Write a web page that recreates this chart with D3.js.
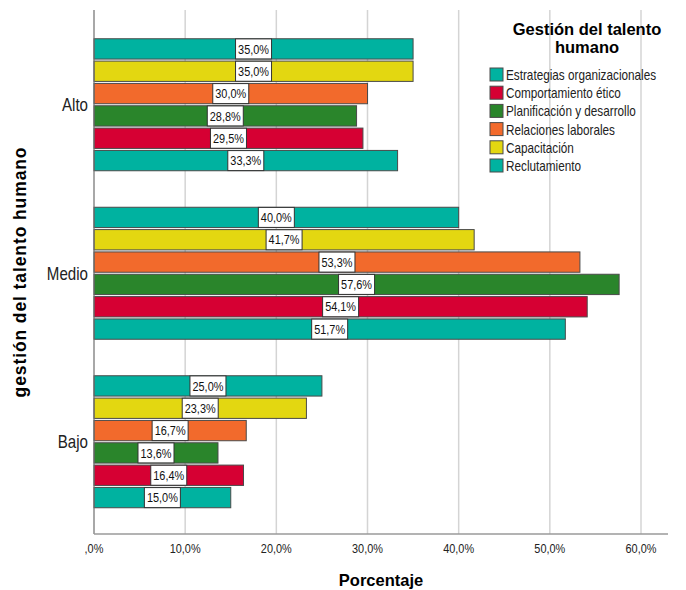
<!DOCTYPE html>
<html>
<head>
<meta charset="utf-8">
<script src="https://cdn.jsdelivr.net/npm/d3@7"></script>
<style>
  body { margin: 0; background: #fff; }
  svg { font-family: "Liberation Sans", Arial, sans-serif; }
</style>
</head>
<body>
<svg id="chart" width="686" height="590"></svg>
<script>
// categories (top to bottom) and series (top to bottom inside a group)
const niveles = ["Alto", "Medio", "Bajo"];
const series = ["Estrategias organizacionales", "Capacitación", "Relaciones laborales",
                "Planificación y desarrollo", "Comportamiento ético", "Reclutamiento"];
// legend order as printed
const legendOrder = ["Estrategias organizacionales", "Comportamiento ético", "Planificación y desarrollo",
                     "Relaciones laborales", "Capacitación", "Reclutamiento"];

// values per series, in niveles order
const estrategias    = [35.0, 40.0, 25.0];
const capacitacion   = [35.0, 41.7, 23.3];
const relaciones     = [30.0, 53.3, 16.7];
const planificacion  = [28.8, 57.6, 13.6];
const comportamiento = [29.5, 54.1, 16.4];
const reclutamiento  = [33.3, 51.7, 15.0];

const xTicks = [0, 10, 20, 30, 40, 50, 60];

const values = [estrategias, capacitacion, relaciones, planificacion, comportamiento, reclutamiento];
const colors = {
  "Estrategias organizacionales": "#00b2a0",
  "Capacitación": "#e3d711",
  "Relaciones laborales": "#f26a2c",
  "Planificación y desarrollo": "#2a852b",
  "Comportamiento ético": "#d60033",
  "Reclutamiento": "#00b2a0"
};

const data = [];
niveles.forEach((n, i) => {
  series.forEach((s, j) => data.push({nivel: n, serie: s, value: values[j][i]}));
});

const svg = d3.select("#chart");
const plotLeft = 94, plotRight = 668, plotTop = 10, plotBottom = 534;
const narrow = "scale(0.84,1)"; // no Arial Narrow here, squeeze instead

const x = d3.scaleLinear().domain([0, 60]).range([plotLeft, plotLeft + 547]);
const y = d3.scaleBand().domain(niveles).range([20.5, 526]);
const yInner = d3.scaleBand().domain(series).range([0, 132]).paddingInner(0.09);

const fmt = v => d3.format(".1f")(v).replace(".", ",");
const barY = d => y(d.nivel) + y.bandwidth() / 2 - 66 + yInner(d.serie);

// grid
svg.append("g").selectAll("line")
  .data(xTicks.filter(d => d > 0))
  .enter().append("line")
    .attr("x1", d => x(d)).attr("x2", d => x(d))
    .attr("y1", plotTop).attr("y2", plotBottom)
    .attr("stroke", "#d4d4d4").attr("stroke-width", 1.5);

// bars
const g = svg.append("g");
g.selectAll("rect")
  .data(data)
  .enter().append("rect")
    .attr("x", x(0))
    .attr("y", barY)
    .attr("width", d => x(d.value) - x(0))
    .attr("height", yInner.bandwidth())
    .attr("fill", d => colors[d.serie])
    .attr("stroke", "#4a4a4a").attr("stroke-width", 1);

// value labels
const lab = svg.append("g").selectAll("g")
  .data(data)
  .enter().append("g")
    .attr("transform", d => `translate(${x(d.value / 2)},${barY(d) + yInner.bandwidth() / 2})`);
lab.append("rect")
  .attr("x", -18).attr("y", -10).attr("width", 36).attr("height", 20)
  .attr("fill", "#fff").attr("stroke", "#333").attr("stroke-width", 1);
lab.append("text")
  .attr("transform", narrow)
  .attr("text-anchor", "middle").attr("dy", "0.36em")
  .attr("font-size", 13).attr("fill", "#111")
  .text(d => fmt(d.value) + "%");

// axes lines
svg.append("line").attr("x1", plotLeft).attr("x2", plotLeft).attr("y1", plotTop).attr("y2", plotBottom)
  .attr("stroke", "#6e6e6e").attr("stroke-width", 1.2);
svg.append("line").attr("x1", plotLeft).attr("x2", plotRight).attr("y1", plotBottom).attr("y2", plotBottom)
  .attr("stroke", "#9a9a9a").attr("stroke-width", 1.5);

// x tick labels
svg.append("g").selectAll("g")
  .data(xTicks)
  .enter().append("g")
    .attr("transform", d => `translate(${x(d)},553)`)
  .append("text")
    .attr("transform", narrow)
    .attr("text-anchor", "middle").attr("font-size", 13).attr("fill", "#222")
    .text(d => (d === 0 ? "" : d) + ",0%");

// y category labels
svg.append("g").selectAll("g")
  .data(niveles)
  .enter().append("g")
    .attr("transform", d => `translate(88,${y(d) + y.bandwidth() / 2})`)
  .append("text")
    .attr("transform", narrow)
    .attr("dy", "0.36em").attr("text-anchor", "end")
    .attr("font-size", 18).attr("fill", "#222")
    .text(d => d);

// axis titles
svg.append("text")
  .attr("x", 381).attr("y", 586)
  .attr("text-anchor", "middle").attr("font-size", 16.5).attr("font-weight", "bold")
  .text("Porcentaje");
svg.append("text")
  .attr("transform", "translate(26,272) rotate(-90)")
  .attr("text-anchor", "middle").attr("font-size", 17.5).attr("font-weight", "bold")
  .attr("letter-spacing", 0.9)
  .text("gestión del talento humano");

// legend
const leg = svg.append("g");
leg.append("text").attr("x", 587).attr("y", 35)
  .attr("text-anchor", "middle").attr("font-size", 16.5).attr("font-weight", "bold")
  .text("Gestión del talento");
leg.append("text").attr("x", 587).attr("y", 53)
  .attr("text-anchor", "middle").attr("font-size", 16.5).attr("font-weight", "bold")
  .text("humano");
const items = leg.selectAll("g.item")
  .data(legendOrder)
  .enter().append("g")
    .attr("transform", (d, i) => `translate(490,${68 + i * 18.2})`);
items.append("rect")
  .attr("width", 13).attr("height", 13)
  .attr("fill", d => colors[d]).attr("stroke", "#4a4a4a");
items.append("g")
    .attr("transform", "translate(16,7)")
  .append("text")
    .attr("transform", narrow)
    .attr("dy", "0.36em")
    .attr("font-size", 14).attr("fill", "#222")
    .text(d => d);
</script>
</body>
</html>
